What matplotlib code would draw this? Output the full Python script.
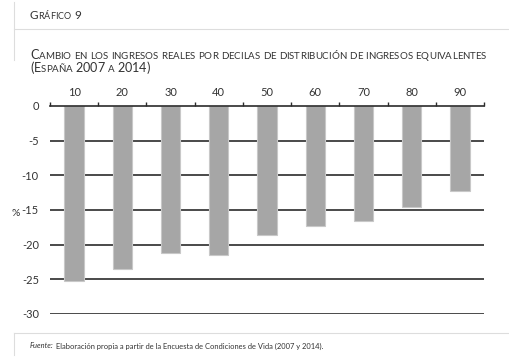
import numpy as np
import matplotlib.pyplot as plt

decilas = ["10", "20", "30", "40", "50", "60", "70", "80", "90"]
cambio = [-25.2, -23.5, -21.2, -21.5, -18.6, -17.3, -16.6, -14.6, -12.2]
yticks = [0, -5, -10, -15, -20, -25, -30]

plt.rcParams["font.family"] = ["Lato", "DejaVu Sans"]

fig = plt.figure(figsize=(5.1, 3.63), dpi=100)
ax = fig.add_axes([50 / 510, 1 - 314 / 363, 434 / 510, 208 / 363])

x = np.arange(len(decilas))
ax.bar(x, cambio, width=0.4, color="#a6a6a6", edgecolor="#c8c8c8", linewidth=0.8, zorder=3)

ax.set_xlim(-0.5, len(decilas) - 0.5)
ax.set_ylim(-30, 0)
for v in yticks[1:]:
    ax.axhline(v, color="#2b2b2b", lw=1.2, zorder=1)

for s in ["left", "right", "bottom"]:
    ax.spines[s].set_visible(False)
ax.spines["top"].set_color("#2b2b2b")
ax.spines["top"].set_linewidth(1.2)
ax.spines["top"].set_zorder(4)

ax.xaxis.tick_top()
ax.set_xticks(x)
ax.set_xticklabels(decilas, fontsize=8, color="#333333")
ax.tick_params(axis="x", which="major", length=0, pad=6)
ax.set_xticks(np.arange(-0.5, len(decilas)), minor=True)
ax.tick_params(axis="x", which="minor", direction="out", length=3, width=1, color="#2b2b2b", top=True, bottom=False)

ax.set_yticks(yticks)
ax.set_yticklabels([str(v) for v in yticks], fontsize=8, color="#333333")
ax.tick_params(axis="y", length=0, pad=8)
fig.text(12 / 510, 1 - 213 / 363, "%", fontsize=7.5, color="#333333", ha="left", va="center")


def small_caps(x0, y0, text, big, small, color="#333333"):
    # dibuja texto en versalitas juntando trozos
    r = fig.canvas.get_renderer()
    xp = x0
    for word in text.split(" "):
        for ch in word:
            if ch.isupper() or ch.isdigit() or not ch.isalpha():
                t = fig.text(xp, y0, ch, fontsize=big, color=color, va="baseline")
            else:
                t = fig.text(xp, y0, ch.upper(), fontsize=small, color=color, va="baseline")
            bb = t.get_window_extent(r)
            xp += bb.width / fig.bbox.width
        xp += 3.0 / fig.bbox.width
    return xp


small_caps(30 / 510, 1 - 19 / 363, "Gráfico 9", 8.5, 6.5)
small_caps(30 / 510, 1 - 59 / 363, "Cambio en los ingresos reales por decilas de distribución de ingresos equivalentes", 9.1, 7.0)
small_caps(30 / 510, 1 - 72 / 363, "(España 2007 a 2014)", 9.1, 7.0)

# marcos del cuadro
fig.add_artist(plt.Line2D([14 / 510, 1], [1 - 29 / 363] * 2, color="#dddddd", lw=0.8))
fig.add_artist(plt.Line2D([14 / 510] * 2, [1 - 2 / 363, 1 - 60 / 363], color="#dddddd", lw=0.8))
fig.add_artist(plt.Line2D([14 / 510, 1], [1 - 333 / 363] * 2, color="#dddddd", lw=0.8))
fig.add_artist(plt.Line2D([14 / 510] * 2, [1 - 333 / 363, 1 - 355 / 363], color="#dddddd", lw=0.8))

t1 = fig.text(30 / 510, 1 - 346 / 363, "Fuente:", fontsize=5.4, style="italic", color="#333333", va="center")
r = fig.canvas.get_renderer()
w = t1.get_window_extent(r).width / fig.bbox.width
fig.text(30 / 510 + w + 0.004, 1 - 346 / 363,
         "Elaboración propia a partir de la Encuesta de Condiciones de Vida (2007 y 2014).",
         fontsize=5.4, color="#333333", va="center")

fig.savefig("out.png", dpi=100, facecolor="white")
